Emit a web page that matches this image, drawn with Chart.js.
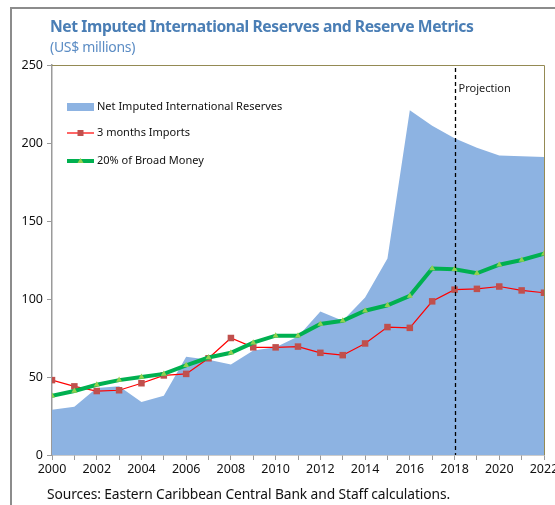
<!DOCTYPE html>
<html>
<head>
<meta charset="utf-8">
<script src="https://cdn.jsdelivr.net/npm/chart.js@4.4.1/dist/chart.umd.min.js"></script>
<style>
  html, body { margin: 0; padding: 0; background: #fff; }
  body { width: 555px; height: 505px; overflow: hidden; position: relative; font-family: "Noto Sans", "Open Sans", sans-serif; }
  #frame { position: absolute; left: 10px; top: 7px; width: 560px; height: 520px; border-left: 2px solid #8c8c8c; border-top: 2px solid #8c8c8c; }
  #wrap { position: absolute; left: 0; top: 0; width: 580px; height: 505px; }
  .title { position: absolute; left: 50px; top: 15px; color: #4a7eb5; font-weight: bold; font-size: 15.7px; letter-spacing: -0.42px; white-space: nowrap; }
  .sub { position: absolute; left: 50px; top: 37px; color: #5b8cc4; font-size: 14px; letter-spacing: -0.3px; white-space: nowrap; }
  .src { position: absolute; left: 47px; top: 484px; color: #111; font-size: 13.8px; letter-spacing: -0.1px; white-space: nowrap; }
</style>
</head>
<body>
<div id="frame"></div>
<div id="wrap"><canvas id="myChart" width="580" height="505"></canvas></div>
<div class="title">Net Imputed International Reserves and Reserve Metrics</div>
<div class="sub">(US$ millions)</div>
<div class="src">Sources: Eastern Caribbean Central Bank and Staff calculations.</div>
<script>
// years 2000-2022, projections from 2018
let years = [2000, 2001, 2002, 2003, 2004, 2005, 2006, 2007, 2008, 2009, 2010, 2011,
             2012, 2013, 2014, 2015, 2016, 2017, 2018, 2019, 2020, 2021, 2022]
let reserves = [29, 31, 43, 44, 34, 38, 63, 61, 58, 67, 69, 76,
                92, 86, 101, 126, 221, 211, 203, 197, 192, 191.5, 191]
let imports3m = [48, 44, 41, 41.5, 46, 51, 52, 62, 75, 69, 69, 69.5,
                 65.5, 64, 71.5, 82, 81.5, 98.5, 106, 106.5, 108, 105.5, 104]
let broadMoney20 = [38, 41, 45, 48, 50, 52, 57.5, 62.5, 65.5, 72, 76.5, 76.5,
                    84, 86, 92.5, 96, 102, 119.5, 119, 116.5, 122, 125, 129]
let yTicks = [0, 50, 100, 150, 200, 250]
let projectionYear = 2018

let tickFont = { family: "'Noto Sans', sans-serif", size: 12.5 }

let toXY = arr => arr.map((v, i) => ({ x: years[i], y: v }))

// thin olive border on top/right of the plot, dashed projection marker
let plotDecor = {
  id: 'plotDecor',
  afterDatasetsDraw(chart) {
    let { ctx, chartArea: a, scales } = chart
    ctx.save()
    ctx.strokeStyle = '#948a54'
    ctx.lineWidth = 1
    ctx.beginPath()
    ctx.moveTo(a.left, a.top + 0.5)
    ctx.lineTo(a.right + 0.5, a.top + 0.5)
    ctx.lineTo(a.right + 0.5, a.bottom)
    ctx.stroke()

    let px = Math.round(scales.x.getPixelForValue(projectionYear)) + 0.5
    ctx.strokeStyle = '#000'
    ctx.lineWidth = 1.3
    ctx.setLineDash([4, 3])
    ctx.beginPath()
    ctx.moveTo(px, a.top + 3)
    ctx.lineTo(px, a.bottom)
    ctx.stroke()
    ctx.setLineDash([])
    ctx.fillStyle = '#222'
    ctx.font = "11px 'Noto Sans', sans-serif"
    ctx.textBaseline = 'middle'
    ctx.fillText('Projection', px + 3, a.top + 24)
    ctx.restore()
  }
}

// legend drawn inside the plot, upper left
let innerLegend = {
  id: 'innerLegend',
  afterDraw(chart) {
    let { ctx, chartArea: a } = chart
    let x0 = a.left + 15, x1 = a.left + 42
    let rows = [a.top + 42, a.top + 68, a.top + 96]
    ctx.save()
    ctx.font = "11px 'Noto Sans', sans-serif"
    ctx.textBaseline = 'middle'
    chart.data.datasets.forEach((ds, i) => {
      let y = rows[i]
      if (ds.fill) {
        ctx.fillStyle = ds.backgroundColor
        ctx.fillRect(x0, y - 4, x1 - x0, 8)
      } else {
        ctx.strokeStyle = ds.borderColor
        ctx.lineWidth = ds.borderWidth
        ctx.beginPath()
        ctx.moveTo(x0, y)
        ctx.lineTo(x1, y)
        ctx.stroke()
        ctx.fillStyle = ds.pointBackgroundColor
        let m = (x0 + x1) / 2
        if (ds.pointStyle === 'rect') {
          ctx.fillRect(m - 3, y - 3, 6, 6)
        } else {
          ctx.beginPath()
          ctx.moveTo(m, y - 3)
          ctx.lineTo(m + 3, y + 2)
          ctx.lineTo(m - 3, y + 2)
          ctx.closePath()
          ctx.fill()
        }
      }
      ctx.fillStyle = '#111'
      ctx.fillText(ds.label, x1 + 3, y)
    })
    ctx.restore()
  }
}

let ctx = document.getElementById('myChart').getContext('2d')
let myChart = new Chart(ctx, {
  type: 'line',
  data: {
    datasets: [{
      label: 'Net Imputed International Reserves',
      data: toXY(reserves),
      backgroundColor: '#8db3e2',
      borderColor: '#8db3e2',
      borderWidth: 0,
      pointRadius: 0,
      fill: 'origin',
      order: 3
    }, {
      label: '3 months Imports',
      data: toXY(imports3m),
      borderColor: '#ff0000',
      borderWidth: 1.2,
      pointStyle: 'rect',
      pointRadius: 4.6,
      pointBackgroundColor: '#c0504d',
      pointBorderWidth: 0,
      fill: false,
      order: 2
    }, {
      label: '20% of Broad Money',
      data: toXY(broadMoney20),
      borderColor: '#00b050',
      borderWidth: 4,
      pointStyle: 'triangle',
      pointRadius: 3.5,
      pointBackgroundColor: '#92d050',
      pointBorderWidth: 0,
      fill: false,
      order: 1
    }]
  },
  options: {
    responsive: false,
    animation: false,
    events: [],
    layout: { padding: { left: 0, top: 65, right: 36, bottom: 20 } },
    plugins: { legend: { display: false }, tooltip: { enabled: false } },
    scales: {
      x: {
        type: 'linear',
        min: 2000,
        max: 2022,
        afterFit: s => { s.height = 30 },
        afterBuildTicks: s => { s.ticks = years.map(v => ({ value: v })) },
        ticks: {
          autoSkip: false,
          maxRotation: 0,
          color: '#111',
          font: tickFont,
          padding: 2,
          callback: v => (v % 2 === 0 ? String(v) : '')
        },
        grid: { drawOnChartArea: false, drawTicks: true, tickLength: 5, color: '#9a9a9a' },
        border: { color: '#9a9a9a', width: 1.5 }
      },
      y: {
        min: 0,
        max: 250,
        afterFit: s => { s.width = 52 },
        afterBuildTicks: s => { s.ticks = yTicks.map(v => ({ value: v })) },
        ticks: { color: '#111', font: tickFont, padding: 4 },
        grid: { drawOnChartArea: false, drawTicks: true, tickLength: 5, color: '#9a9a9a' },
        border: { color: '#9a9a9a', width: 1.5 }
      }
    }
  },
  plugins: [plotDecor, innerLegend]
})
</script>
</body>
</html>
